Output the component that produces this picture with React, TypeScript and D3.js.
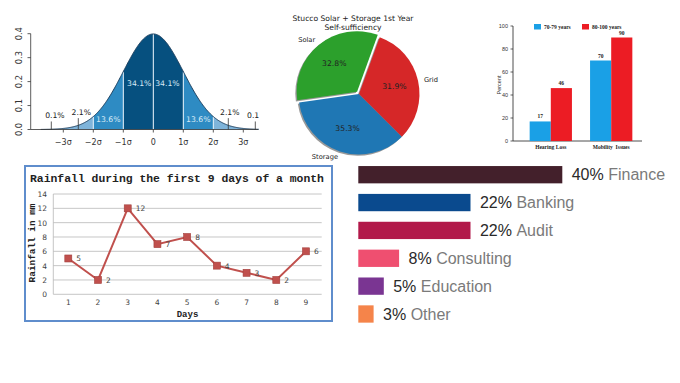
import React from "react";
import * as d3 from "d3";

// ---------- Chart 1: normal distribution ----------
const sigmaTicks = [-3, -2, -1, 0, 1, 2, 3];
const sigmaTickLabels = ["−3σ", "−2σ", "−1σ", "0", "1σ", "2σ", "3σ"];
const normalYTicks = [0, 0.1, 0.2, 0.3, 0.4];
const bandEdges = [-3.75, -3, -2, -1, 0, 1, 2, 3, 3.75];
const bandShares = ["0.1%", "2.1%", "13.6%", "34.1%", "34.1%", "13.6%", "2.1%", "0.1%"];

// ---------- Chart 2: pie ----------
const pieLabels = ["Solar", "Storage", "Grid"];
const pieValues = [32.8, 35.3, 31.9];
const pieTitle = ["Stucco Solar + Storage 1st Year", "Self-sufficiency"];

// ---------- Chart 3: grouped bars ----------
const groupCats = ["Hearing Loss", "Mobility  Issues"];
const groupSeries = ["70-79 years", "80-100 years"];
const groupValues = [
  [17, 46],
  [70, 90],
];
const groupYTicks = [0, 20, 40, 60, 80, 100];

// ---------- Chart 4: rainfall ----------
const rainDays = [1, 2, 3, 4, 5, 6, 7, 8, 9];
const rainValues = [5, 2, 12, 7, 8, 4, 3, 2, 6];
const rainYTicks = [0, 2, 4, 6, 8, 10, 12, 14];

// ---------- Chart 5: horizontal bars ----------
const sectorNames = ["Finance", "Banking", "Audit", "Consulting", "Education", "Other"];
const sectorValues = [40, 22, 22, 8, 5, 3];

const sectorColors = ["#43202b", "#0a4a8e", "#b2194a", "#ef4f70", "#7a3592", "#f5844a"];
const bandFill = ["#b5d3ea", "#7fb4da", "#2e8bc3", "#06507f", "#06507f", "#2e8bc3", "#7fb4da", "#b5d3ea"];
// label anchor positions in (z, density) units
const shareLabelPos = [
  [-3.28, 0.046],
  [-2.4, 0.06],
  [-1.5, 0.03],
  [-0.47, 0.18],
  [0.47, 0.18],
  [1.5, 0.03],
  [2.55, 0.06],
  [3.45, 0.046],
];
const leaderZ = [-3.4, -2.5, null, null, null, null, 2.5, 3.4];

const pdf = (z: number) => Math.exp(-(z * z) / 2) / Math.sqrt(2 * Math.PI);

function NormalChart() {
  const xs = d3.scaleLinear().domain([-3, 3]).range([63.3, 243.3]);
  const ys = d3.scaleLinear().domain([0, 0.4]).range([129.5, 33.7]);
  const area = d3
    .area<number>()
    .x((z) => xs(z))
    .y0(ys(0))
    .y1((z) => ys(pdf(z)));
  const line = d3
    .line<number>()
    .x((z) => xs(z))
    .y((z) => ys(pdf(z)));
  const sample = (a: number, b: number) => {
    const pts = d3.range(a, b, 0.02);
    pts.push(b);
    return pts;
  };
  const font = "DejaVu Sans, sans-serif";
  return (
    <g clipPath="url(#clipNormal)">
      <defs>
        <clipPath id="clipNormal">
          <rect x={0} y={0} width={259} height={160} />
        </clipPath>
      </defs>
      {bandEdges.slice(0, -1).map((a, i) => (
        <path key={i} d={area(sample(a, bandEdges[i + 1])) || ""} fill={bandFill[i]} />
      ))}
      {sigmaTicks.map((z) => (
        <line key={z} x1={xs(z)} x2={xs(z)} y1={ys(0)} y2={ys(pdf(z))} stroke="#e8f2fa" strokeWidth={1} />
      ))}
      <path d={line(sample(-3.75, 3.75)) || ""} fill="none" stroke="#1d3f5e" strokeWidth={1} />
      {/* axes */}
      <line x1={30.7} x2={30.7} y1={ys(0.4)} y2={ys(0)} stroke="#333" strokeWidth={0.8} />
      <line x1={30.7} x2={258} y1={ys(0)} y2={ys(0)} stroke="#333" strokeWidth={0.8} />
      {normalYTicks.map((t) => (
        <g key={t}>
          <line x1={27.5} x2={30.7} y1={ys(t)} y2={ys(t)} stroke="#333" strokeWidth={0.8} />
          <text
            transform={`translate(${22},${ys(t)}) rotate(-90)`}
            textAnchor="middle"
            fontSize={8.3}
            fontFamily={font}
            fill="#333"
          >
            {t.toFixed(1)}
          </text>
        </g>
      ))}
      {sigmaTicks.map((z, i) => (
        <g key={z}>
          <line x1={xs(z)} x2={xs(z)} y1={ys(0)} y2={ys(0) + 3} stroke="#333" strokeWidth={0.8} />
          <text x={xs(z)} y={ys(0) + 15} textAnchor="middle" fontSize={8} fontFamily={font} fill="#333">
            {sigmaTickLabels[i]}
          </text>
        </g>
      ))}
      {bandShares.map((s, i) => {
        const [z, v] = shareLabelPos[i];
        const inside = i >= 2 && i <= 5;
        const lz = leaderZ[i];
        return (
          <g key={i}>
            {lz !== null && (
              <line x1={xs(lz)} x2={xs(lz)} y1={ys(0)} y2={ys(v) + 3} stroke="#333" strokeWidth={0.8} />
            )}
            <text
              x={xs(z)}
              y={ys(v)}
              textAnchor="middle"
              fontSize={7.7}
              fontFamily={font}
              fill={inside ? "#d8eaf6" : "#222"}
            >
              {s}
            </text>
          </g>
        );
      })}
    </g>
  );
}

function PieChart() {
  const cx = 359;
  const cy = 94;
  const r = 60.5;
  const toRad = (d: number) => (d * Math.PI) / 180;
  const pie = d3
    .pie<number>()
    .sort(null)
    .startAngle(toRad(20))
    .endAngle(toRad(20 - 360));
  const arcs = pie(pieValues);
  const arc = d3.arc<any>().innerRadius(0).outerRadius(r);
  const colors = ["#2ca02c", "#1f77b4", "#d62728"];
  const explode = [0.05, 0, 0];
  const font = "DejaVu Sans, sans-serif";
  return (
    <g>
      {pieTitle.map((t, i) => (
        <text key={i} x={353} y={21 + i * 8.5} textAnchor="middle" fontSize={7.6} fontFamily={font} fill="#222">
          {t}
        </text>
      ))}
      {arcs.map((a, i) => {
        const mid = (a.startAngle + a.endAngle) / 2;
        const ox = Math.sin(mid) * r * explode[i];
        const oy = -Math.cos(mid) * r * explode[i];
        return (
          <path
            key={"s" + i}
            d={arc(a) || ""}
            transform={`translate(${cx + ox - 1.3},${cy + oy + 1.3})`}
            fill="#000"
            opacity={0.4}
          />
        );
      })}
      {arcs.map((a, i) => {
        const mid = (a.startAngle + a.endAngle) / 2;
        const ox = Math.sin(mid) * r * explode[i];
        const oy = -Math.cos(mid) * r * explode[i];
        const sx = Math.sin(mid);
        const sy = -Math.cos(mid);
        return (
          <g key={i} transform={`translate(${cx + ox},${cy + oy})`}>
            <path d={arc(a) || ""} fill={colors[i]} />
            <text
              x={sx * r * 0.6}
              y={sy * r * 0.6 + 2.5}
              textAnchor="middle"
              fontSize={7.7}
              fontFamily={font}
              fill="#222"
            >
              {pieValues[i].toFixed(1)}%
            </text>
            <text
              x={sx * r * 1.1}
              y={sy * r * 1.1 + 2.3}
              textAnchor={sx < 0 ? "end" : "start"}
              fontSize={6.7}
              fontFamily={font}
              fill="#222"
            >
              {pieLabels[i]}
            </text>
          </g>
        );
      })}
    </g>
  );
}

function GroupedBars() {
  const x0 = d3.scaleBand().domain(groupCats).range([520, 642]).paddingInner(0.3).paddingOuter(0.16);
  const x1 = d3.scaleBand().domain(groupSeries).range([0, x0.bandwidth()]);
  const y = d3.scaleLinear().domain([0, 100]).range([141, 26]);
  const colors = ["#1aa0e6", "#ec1c24"];
  const font = "Liberation Serif, Times New Roman, serif";
  return (
    <g>
      <line x1={513} x2={513} y1={y(100)} y2={y(0)} stroke="#222" strokeWidth={0.8} />
      <line x1={513} x2={642} y1={y(0)} y2={y(0)} stroke="#222" strokeWidth={0.8} />
      {groupYTicks.map((t) => (
        <g key={t}>
          <line x1={510.5} x2={513} y1={y(t)} y2={y(t)} stroke="#222" strokeWidth={0.7} />
          <text x={508} y={y(t) + 2} textAnchor="end" fontSize={5.5} fontFamily="Liberation Sans, Arial, sans-serif" fill="#333">
            {t}
          </text>
        </g>
      ))}
      <text
        transform={`translate(501,85) rotate(-90)`}
        textAnchor="middle"
        fontSize={5.5}
        fontFamily="Liberation Sans, Arial, sans-serif"
        fill="#333"
      >
        Percent
      </text>
      {groupCats.map((c, i) => (
        <g key={c}>
          {groupSeries.map((s, j) => {
            const v = groupValues[i][j];
            const bx = (x0(c) || 0) + (x1(s) || 0);
            return (
              <g key={s}>
                <rect x={bx} y={y(v)} width={x1.bandwidth()} height={y(0) - y(v)} fill={colors[j]} />
                <text
                  x={bx + x1.bandwidth() / 2}
                  y={y(v) - 3}
                  textAnchor="middle"
                  fontSize={5.5}
                  fontWeight="bold"
                  fontFamily={font}
                  fill="#222"
                >
                  {v}
                </text>
              </g>
            );
          })}
          <text
            x={(x0(c) || 0) + x0.bandwidth() / 2}
            y={149}
            textAnchor="middle"
            fontSize={5.5}
            fontWeight="bold"
            fontFamily={font}
            fill="#222"
            style={{ whiteSpace: "pre" }}
          >
            {c}
          </text>
        </g>
      ))}
      {groupSeries.map((s, j) => (
        <g key={s} transform={`translate(${534 + j * 48},24)`}>
          <rect x={0} y={0} width={7} height={5.5} fill={colors[j]} />
          <text x={10} y={5} fontSize={5.5} fontWeight="bold" fontFamily={font} fill="#222">
            {s}
          </text>
        </g>
      ))}
    </g>
  );
}

function RainChart() {
  const x = d3.scalePoint<number>().domain(rainDays).range([68.3, 306]);
  const y = d3.scaleLinear().domain([0, 14]).range([294.3, 194]);
  const line = d3
    .line<number>()
    .x((_, i) => x(rainDays[i]) || 0)
    .y((v) => y(v));
  const mono = "Liberation Mono, Courier New, monospace";
  const sans = "DejaVu Sans, Verdana, sans-serif";
  return (
    <g>
      <rect x={25} y={166} width={307} height={155} fill="#fff" stroke="#5f8dcc" strokeWidth={2} />
      <text x={177} y={181.5} textAnchor="middle" fontSize={11.4} fontWeight="bold" fontFamily={mono} fill="#222">
        Rainfall during the first 9 days of a month
      </text>
      {rainYTicks.map((t) => (
        <g key={t}>
          <line x1={53.3} x2={321.7} y1={y(t)} y2={y(t)} stroke="#b8b8b8" strokeWidth={0.8} />
          <text x={47} y={y(t) + 3} textAnchor="end" fontSize={7.5} fontFamily={sans} fill="#444">
            {t}
          </text>
        </g>
      ))}
      <line x1={53.3} x2={53.3} y1={y(14)} y2={y(0)} stroke="#b8b8b8" strokeWidth={0.8} />
      {rainDays.map((d) => (
        <text key={d} x={x(d)} y={305} textAnchor="middle" fontSize={7.5} fontFamily={sans} fill="#444">
          {d}
        </text>
      ))}
      <text x={187.5} y={316.5} textAnchor="middle" fontSize={9} fontWeight="bold" fontFamily={mono} fill="#222">
        Days
      </text>
      <text
        transform={`translate(35,243) rotate(-90)`}
        textAnchor="middle"
        fontSize={9.4}
        fontWeight="bold"
        fontFamily={mono}
        fill="#222"
      >
        Rainfall in mm
      </text>
      <path d={line(rainValues) || ""} fill="none" stroke="#c0504d" strokeWidth={2} />
      {rainValues.map((v, i) => (
        <g key={i}>
          <rect
            x={(x(rainDays[i]) || 0) - 3.5}
            y={y(v) - 3.5}
            width={7}
            height={7}
            fill="#c0504d"
            stroke="#a33f3c"
            strokeWidth={0.6}
          />
          <text x={(x(rainDays[i]) || 0) + 8} y={y(v) + 3} fontSize={7.5} fontFamily={sans} fill="#444">
            {v}
          </text>
        </g>
      ))}
    </g>
  );
}

function SectorBars() {
  const x = d3.scaleLinear().domain([0, 40]).range([358.3, 562.3]);
  const y = d3.scalePoint<string>().domain(sectorNames).range([174.7, 314]);
  const h = 17.3;
  const font = "Liberation Sans, Arial, Helvetica, sans-serif";
  return (
    <g>
      {sectorNames.map((n, i) => {
        const cyy = y(n) || 0;
        return (
          <g key={n}>
            <rect x={x(0)} y={cyy - h / 2} width={x(sectorValues[i]) - x(0)} height={h} fill={sectorColors[i]} />
            <text x={x(sectorValues[i]) + 9.4} y={cyy + 5.7} fontSize={16} fontFamily={font}>
              <tspan fill="#2a2a2a">{sectorValues[i]}%</tspan>
              <tspan fill="#7a7a7a" dx={4.5}>
                {n}
              </tspan>
            </text>
          </g>
        );
      })}
    </g>
  );
}

export default function App() {
  return (
    <svg
      width={680}
      height={383}
      viewBox="0 0 680 383"
      style={{ position: "absolute", left: 0, top: 0, display: "block", background: "#fff" }}
    >
      <rect width={680} height={383} fill="#fff" />
      <NormalChart />
      <PieChart />
      <GroupedBars />
      <RainChart />
      <SectorBars />
    </svg>
  );
}
